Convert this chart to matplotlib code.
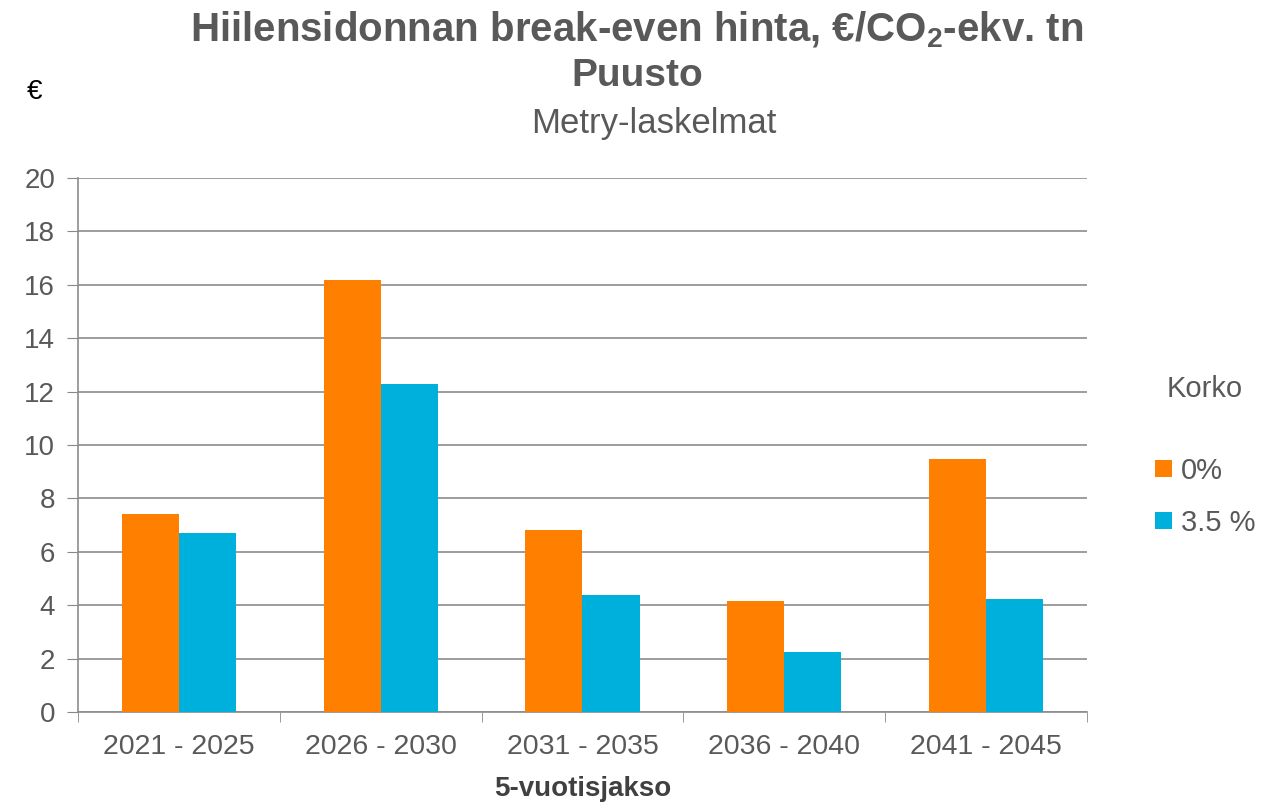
import matplotlib
matplotlib.use("Agg")
import matplotlib.pyplot as plt
import numpy as np

categories = ["2021 - 2025", "2026 - 2030", "2031 - 2035", "2036 - 2040", "2041 - 2045"]
series_names = ["0%", "3.5 %"]
korko_0 = [7.41, 16.19, 6.80, 4.14, 9.47]
korko_35 = [6.69, 12.29, 4.40, 2.24, 4.25]
colors = ["#FF8000", "#00B0DC"]
yticks = [0, 2, 4, 6, 8, 10, 12, 14, 16, 18, 20]

plt.rcParams['font.family'] = ['Liberation Sans', 'DejaVu Sans']

fig = plt.figure(figsize=(12.84, 8.02), dpi=100)
W, H = 1284, 802
ax = fig.add_axes([78 / W, 1 - 712 / H, (1087 - 78) / W, (712 - 178) / H])

x = np.arange(len(categories))
w = 0.283
ax.bar(x - w / 2, korko_0, width=w, color=colors[0], label=series_names[0], zorder=3)
ax.bar(x + w / 2, korko_35, width=w, color=colors[1], label=series_names[1], zorder=3)

ax.set_xlim(-0.5, len(categories) - 0.5)
ax.set_ylim(0, 20)
ax.set_yticks(yticks)
ax.set_yticklabels([str(v) for v in yticks], fontsize=20, color="#595959")
ax.set_xticks(x)
ax.set_xticklabels(categories, fontsize=20.5, color="#595959")
ax.tick_params(axis="x", length=0, pad=16)
ax.set_xticks(np.arange(-0.5, len(categories)), minor=True)
ax.tick_params(axis="x", which="minor", length=7, color="#888888", direction="out")
ax.tick_params(axis="y", length=8, color="#888888", pad=8.5)
ax.grid(axis="y", color="#8c8c8c", linewidth=1.2, zorder=0)
for s in ["top", "right"]:
    ax.spines[s].set_visible(False)
for s in ["left", "bottom"]:
    ax.spines[s].set_color("#8c8c8c")
    ax.spines[s].set_linewidth(1.2)

ax.set_xlabel("5-vuotisjakso", fontsize=20, fontweight="bold", color="#404040", labelpad=11)

fig.text(637 / W, 1 - 30 / H, r"Hiilensidonnan break-even hinta, €/CO$_\mathregular{2}$-ekv. tn",
         ha="center", va="center", fontsize=29, fontweight="bold", color="#595959")
fig.text(637 / W, 1 - 76 / H, "Puusto", ha="center", va="center", fontsize=28,
         fontweight="bold", color="#595959")
fig.text(654 / W, 1 - 123 / H, "Metry-laskelmat", ha="center", va="center", fontsize=25,
         color="#595959")
fig.text(35 / W, 1 - 92 / H, "€", ha="center", va="center", fontsize=20, color="#000000")

leg = fig.legend(loc="center left", bbox_to_anchor=(1155 / W, 1 - 456 / H), frameon=False,
                 fontsize=21, title="Korko", title_fontsize=21, handlelength=0.58,
                 handleheight=0.5, handletextpad=0.3, labelspacing=0.82, borderpad=0,
                 borderaxespad=0)
for t in leg.get_texts():
    t.set_color("#595959")
leg.get_title().set_color("#595959")
leg._legend_box.sep = 39

fig.savefig("out.png", dpi=100)
